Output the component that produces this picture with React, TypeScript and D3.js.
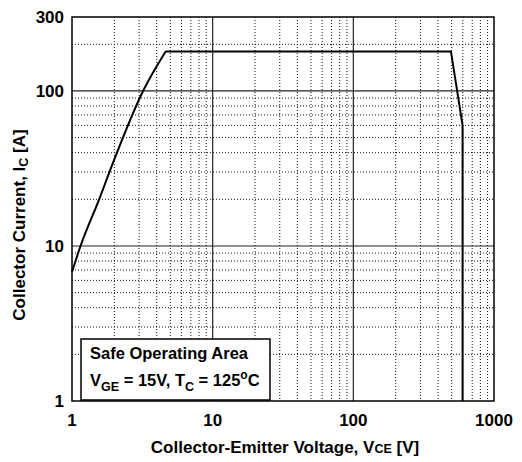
import { useEffect, useRef } from "react";
import * as d3 from "d3";

// safe operating area boundary
const vce = [1, 1.15, 1.56, 1.97, 3.2, 4.63, 494, 598, 598];
const ic = [6.8, 10, 20, 35, 100, 180, 180, 60, 1];

const xTicks = [1, 10, 100, 1000];
const yTicks = [1, 10, 100, 300];

const SOAChart = () => {
  const ref = useRef<SVGSVGElement>(null);

  useEffect(() => {
    const svg = d3.select(ref.current);
    svg.selectAll("*").remove();

    const x = d3.scaleLog().domain([1, 1000]).range([72, 494]);
    const y = d3.scaleLog().domain([1, 300]).range([401, 17]);

    const font = "'Liberation Sans', Arial, sans-serif";
    const grid = svg.append("g");

    // minor vertical lines
    const xMinor: number[] = [];
    [1, 10, 100].forEach((d) => {
      for (let k = 2; k <= 9; k++) xMinor.push(d * k);
    });
    grid
      .selectAll("line.xm")
      .data(xMinor)
      .join("line")
      .attr("x1", (d) => x(d))
      .attr("x2", (d) => x(d))
      .attr("y1", y(300))
      .attr("y2", y(1))
      .attr("stroke", "#111")
      .attr("stroke-width", 1)
      .attr("stroke-dasharray", "1,2");

    const yMinor: number[] = [];
    [1, 10].forEach((d) => {
      for (let k = 2; k <= 9; k++) yMinor.push(d * k);
    });
    yMinor.push(200);
    grid
      .selectAll("line.ym")
      .data(yMinor)
      .join("line")
      .attr("x1", x(1))
      .attr("x2", x(1000))
      .attr("y1", (d) => y(d))
      .attr("y2", (d) => y(d))
      .attr("stroke", "#111")
      .attr("stroke-width", 1)
      .attr("stroke-dasharray", "1,2");

    // decade lines
    grid
      .selectAll("line.xM")
      .data([10, 100])
      .join("line")
      .attr("x1", (d) => x(d))
      .attr("x2", (d) => x(d))
      .attr("y1", y(300))
      .attr("y2", y(1))
      .attr("stroke", "#222")
      .attr("stroke-width", 1.2);
    grid
      .selectAll("line.yM")
      .data([10, 100])
      .join("line")
      .attr("x1", x(1))
      .attr("x2", x(1000))
      .attr("y1", (d) => y(d))
      .attr("y2", (d) => y(d))
      .attr("stroke", "#222")
      .attr("stroke-width", 1.2);

    // curve: rising part smooth, the rest straight segments
    const rise = d3
      .line<number>()
      .x((i) => x(vce[i]))
      .y((i) => y(ic[i]))
      .curve(d3.curveMonotoneX);
    const flat = d3
      .line<number>()
      .x((i) => x(vce[i]))
      .y((i) => y(ic[i]));
    const idx = d3.range(vce.length);
    svg
      .append("path")
      .attr("d", rise(idx.slice(0, 6)))
      .attr("fill", "none")
      .attr("stroke", "#000")
      .attr("stroke-width", 2);
    svg
      .append("path")
      .attr("d", flat(idx.slice(5)))
      .attr("fill", "none")
      .attr("stroke", "#000")
      .attr("stroke-width", 2)
      .attr("stroke-linejoin", "round");

    // plot frame
    svg
      .append("rect")
      .attr("x", x(1))
      .attr("y", y(300))
      .attr("width", x(1000) - x(1))
      .attr("height", y(1) - y(300))
      .attr("fill", "none")
      .attr("stroke", "#000")
      .attr("stroke-width", 1.5);

    // legend
    svg
      .append("rect")
      .attr("x", 81)
      .attr("y", 339)
      .attr("width", 189)
      .attr("height", 61)
      .attr("fill", "#fff")
      .attr("stroke", "#000")
      .attr("stroke-width", 1.5);
    svg
      .append("text")
      .attr("x", 90)
      .attr("y", 359)
      .attr("font-family", font)
      .attr("font-weight", "bold")
      .attr("font-size", 16.5)
      .text("Safe Operating Area");
    const t2 = svg
      .append("text")
      .attr("x", 90)
      .attr("y", 386)
      .attr("font-family", font)
      .attr("font-weight", "bold")
      .attr("font-size", 16.5);
    t2.append("tspan").text("V");
    t2.append("tspan").attr("font-size", 12.5).attr("dy", 5).text("GE");
    t2.append("tspan").attr("dy", -5).text(" = 15V, T");
    t2.append("tspan").attr("font-size", 12.5).attr("dy", 5).text("C");
    t2.append("tspan").attr("dy", -5).text(" = 125");
    t2.append("tspan").attr("font-size", 12).attr("dy", -7).text("o");
    t2.append("tspan").attr("dy", 7).text("C");

    // tick labels
    svg
      .selectAll("text.yt")
      .data(yTicks)
      .join("text")
      .attr("x", 64)
      .attr("y", (d) => y(d) + 6)
      .attr("text-anchor", "end")
      .attr("font-family", font)
      .attr("font-weight", "bold")
      .attr("font-size", 17)
      .text((d) => d);
    svg
      .selectAll("text.xt")
      .data(xTicks)
      .join("text")
      .attr("x", (d) => x(d))
      .attr("y", 426)
      .attr("text-anchor", "middle")
      .attr("font-family", font)
      .attr("font-weight", "bold")
      .attr("font-size", 17)
      .text((d) => d);

    // axis titles
    const xt = svg
      .append("text")
      .attr("x", 285)
      .attr("y", 453)
      .attr("text-anchor", "middle")
      .attr("font-family", font)
      .attr("font-weight", "bold")
      .attr("font-size", 17);
    xt.append("tspan").text("Collector-Emitter Voltage, V");
    xt.append("tspan").attr("font-size", 12.5).text("CE");
    xt.append("tspan").text(" [V]");

    const yt = svg
      .append("text")
      .attr("transform", "translate(25,225) rotate(-90)")
      .attr("text-anchor", "middle")
      .attr("font-family", font)
      .attr("font-weight", "bold")
      .attr("font-size", 17);
    yt.append("tspan").text("Collector Current, I");
    yt.append("tspan").attr("font-size", 12.5).attr("dy", 3).text("C");
    yt.append("tspan").attr("dy", -3).text(" [A]");
  });

  return (
    <svg
      ref={ref}
      width={522}
      height={462}
      style={{ position: "absolute", left: 0, top: 0, display: "block" }}
    ></svg>
  );
};

export default function App() {
  return <SOAChart />;
}
